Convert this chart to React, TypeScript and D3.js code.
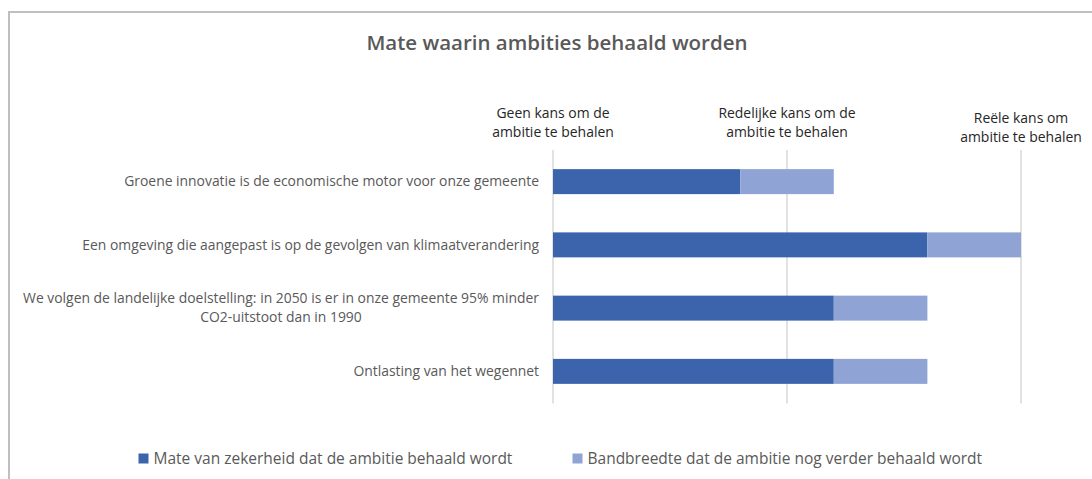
import React from "react";
import * as d3 from "d3";

const categories: string[] = [
  "Groene innovatie is de economische motor voor onze gemeente",
  "Een omgeving die aangepast is op de gevolgen van klimaatverandering",
  "We volgen de landelijke doelstelling: in 2050 is er in onze gemeente 95% minder\nCO2-uitstoot dan in 1990",
  "Ontlasting van het wegennet",
];
const zekerheid: number[] = [4, 8, 6, 6];
const bandbreedte: number[] = [2, 2, 2, 2];
const tickValues: number[] = [0, 5, 10];
const tickLabels: string[] = [
  "Geen kans om de\nambitie te behalen",
  "Redelijke kans om de\nambitie te behalen",
  "Reële kans om\nambitie te behalen",
];
const seriesNames: string[] = [
  "Mate van zekerheid dat de ambitie behaald wordt",
  "Bandbreedte dat de ambitie nog verder behaald wordt",
];
const colors = ["#3C64AD", "#8FA4D4"];

const W = 1092;
const H = 479;
const FONT = "'Open Sans', 'Noto Sans', sans-serif";
const TEXT = "#595959";

export default function App() {
  const x = d3.scaleLinear().domain([0, 10]).range([553, 1021]);
  const y = d3
    .scaleBand<string>()
    .domain(categories)
    .range([150, 403])
    .paddingInner(0.605)
    .paddingOuter(0.3025);
  const bw = y.bandwidth();
  const stacked = categories.map((c, i) => ({
    c,
    segs: [
      { x0: 0, x1: zekerheid[i], col: colors[0] },
      { x0: zekerheid[i], x1: zekerheid[i] + bandbreedte[i], col: colors[1] },
    ],
  }));
  const lineH = 19;
  const legendX = [138.5, 572.5];

  return (
    <svg
      width={W}
      height={H}
      style={{ position: "absolute", left: 0, top: 0, background: "#fff" }}
      fontFamily={FONT}
    >
      <rect x={0} y={0} width={W} height={H} fill="#fff" />
      <rect x={9} y={12} width={W + 20} height={H + 20} fill="none" stroke="#BFBFBF" strokeWidth={2} />
      <text x={557} y={50} textAnchor="middle" fontSize={20.5} fontWeight={600} fill={TEXT}>
        Mate waarin ambities behaald worden
      </text>

      {tickValues.map((t) => (
        <line key={"g" + t} x1={x(t)} x2={x(t)} y1={150} y2={403.5} stroke="#D9D9D9" strokeWidth={1.5} />
      ))}

      {tickValues.map((t, i) => {
        const lines = tickLabels[i].split("\n");
        const base = i === 2 ? 123 : 118;
        return (
          <text key={"t" + t} textAnchor="middle" fontSize={13.95} fill="#262626">
            {lines.map((l, j) => (
              <tspan key={j} x={x(t)} y={base + j * lineH}>
                {l}
              </tspan>
            ))}
          </text>
        );
      })}

      {stacked.map((d) =>
        d.segs.map((s, j) => (
          <rect
            key={d.c + j}
            x={x(s.x0)}
            y={y(d.c)!}
            width={x(s.x1) - x(s.x0)}
            height={bw}
            fill={s.col}
          />
        ))
      )}

      {categories.map((c) => {
        const lines = c.split("\n");
        const cy = y(c)! + bw / 2;
        const first = cy - ((lines.length - 1) * lineH) / 2;
        return (
          <g key={"c" + c}>
            {lines.length === 1 ? (
              <text x={539} y={first} dy="0.35em" textAnchor="end" fontSize={13.9} fill={TEXT}>
                {lines[0]}
              </text>
            ) : (
              <text textAnchor="middle" fontSize={13.9} fill={TEXT}>
                {lines.map((l, j) => (
                  <tspan key={j} x={281} y={first + j * lineH} dy="0.35em">
                    {l}
                  </tspan>
                ))}
              </text>
            )}
          </g>
        );
      })}

      {seriesNames.map((n, i) => (
        <g key={n}>
          <rect x={legendX[i]} y={453.5} width={10} height={10} fill={colors[i]} />
          <text x={legendX[i] + 15} y={458.5} dy="0.35em" fontSize={15.5} fill={TEXT}>
            {n}
          </text>
        </g>
      ))}
    </svg>
  );
}
